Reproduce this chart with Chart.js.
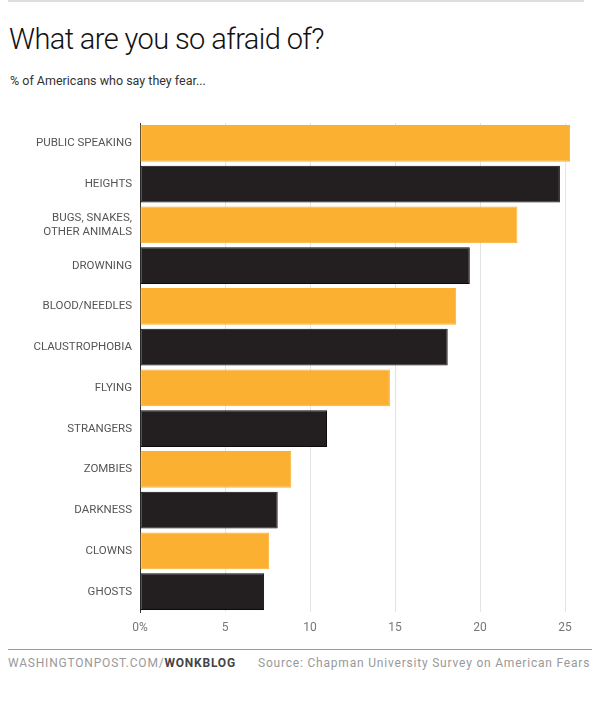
<!DOCTYPE html>
<html>
<head>
<meta charset="utf-8">
<script src="https://cdn.jsdelivr.net/npm/chart.js@4"></script>
<style>
  html, body { margin: 0; padding: 0; background: #fff; }
  body { width: 600px; height: 702px; position: relative; overflow: hidden; font-family: Roboto, "Liberation Sans", sans-serif; }
  .topline { position: absolute; left: 8px; top: 0; width: 576px; height: 2px; background: #ddd; }
  h1 { position: absolute; left: 9px; top: 22px; margin: 0; font-weight: 300; font-size: 29px; letter-spacing: -0.6px; color: #111; }
  .sub { position: absolute; left: 10px; top: 73px; font-size: 12.5px; color: #333; }
  #wrap { position: absolute; left: 0; top: 0; width: 600px; height: 640px; }
  .footline { position: absolute; left: 8px; top: 649px; width: 584px; height: 1px; background: #999; }
  .foot { position: absolute; top: 656px; font-size: 12px; color: #999; letter-spacing: 0.8px; }
  .foot b { color: #444; font-weight: 700; }
</style>
</head>
<body>
<div class="topline"></div>
<h1>What are you so afraid of?</h1>
<div class="sub">% of Americans who say they fear...</div>
<div id="wrap"><canvas id="fears"></canvas></div>
<div class="footline"></div>
<div class="foot" style="left:8px">WASHINGTONPOST.COM/<b>WONKBLOG</b></div>
<div class="foot" style="left:258px">Source: Chapman University Survey on American Fears</div>
<script>
const fears = ['PUBLIC SPEAKING', 'HEIGHTS', ['BUGS, SNAKES,', 'OTHER ANIMALS'], 'DROWNING', 'BLOOD/NEEDLES',
    'CLAUSTROPHOBIA', 'FLYING', 'STRANGERS', 'ZOMBIES', 'DARKNESS', 'CLOWNS', 'GHOSTS'];
const percentAfraid = [25.3, 24.7, 22.2, 19.4, 18.6, 18.1, 14.7, 11.0, 8.9, 8.1, 7.6, 7.3];
const xTicks = [0, 5, 10, 15, 20, 25];

const orange = '#fbb031';
const black = '#231f20';

const ctx = document.getElementById('fears').getContext('2d');
new Chart(ctx, {
    type: 'bar',
    data: {
        labels: fears,
        datasets: [{
            data: percentAfraid,
            backgroundColor: percentAfraid.map((v, i) => i % 2 ? black : orange),
            borderColor: percentAfraid.map((v, i) => i % 2 ? '#0c0a0a' : orange),
            borderWidth: 1,
            borderSkipped: false,
            barPercentage: 0.9,
            categoryPercentage: 1
        }]
    },
    options: {
        indexAxis: 'y',
        responsive: true,
        maintainAspectRatio: false,
        animation: false,
        layout: { padding: { top: 123, right: 18, left: 0, bottom: 0 } },
        plugins: { legend: { display: false }, tooltip: { enabled: false } },
        scales: {
            x: {
                min: 0,
                max: 26,
                z: 1,
                afterBuildTicks: scale => { scale.ticks = xTicks.map(v => ({ value: v })); },
                afterFit: scale => { scale.height = 28; },
                border: { display: false },
                grid: {
                    tickLength: 0,
                    color: c => c.tick && c.tick.value === 0 ? 'rgba(0,0,0,0)' : 'rgba(205,205,205,0.55)'
                },
                ticks: {
                    padding: 9,
                    color: '#777',
                    font: { family: 'Roboto', size: 12 },
                    callback: v => v === 0 ? '0%' : v
                }
            },
            y: {
                afterFit: scale => { scale.width = 140; },
                grid: { display: false, tickLength: 0 },
                border: { display: true, color: '#333', width: 1 },
                ticks: {
                    padding: 8,
                    color: '#555',
                    font: { family: 'Roboto', size: 11.5 }
                }
            }
        }
    }
});
</script>
</body>
</html>
